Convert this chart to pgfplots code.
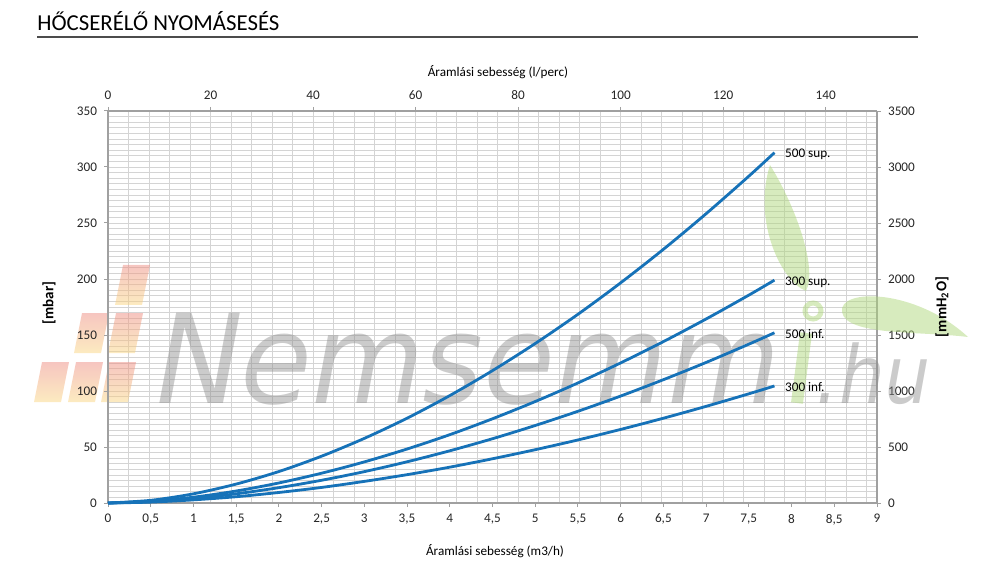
\documentclass[border=0pt]{standalone}
\usepackage{graphicx}
\usepackage{pgfplots}
\pgfplotsset{compat=1.18}
\usepackage{fontspec}
\setmainfont{Carlito}
\newfontfamily\wm[FakeSlant=0.2]{DejaVu Sans}

\definecolor{curve}{RGB}{22,114,184}
\definecolor{gridc}{RGB}{212,212,212}
\definecolor{axc}{RGB}{160,160,160}
\definecolor{wmgray}{RGB}{140,140,140}
\definecolor{leaf}{RGB}{175,215,125}
\definecolor{rtop}{RGB}{238,140,130}
\definecolor{rbot}{RGB}{250,215,130}

\newcommand\ticksize{\fontsize{6.6}{7}\selectfont}

\pgfplotsset{
  base/.style={
    at={(54pt,32.5pt)}, anchor=south west, scale only axis,
    width=384.5pt, height=196pt,
    tick align=outside, major tick length=2pt, minor tick length=0pt,
    tick style={axc, line width=0.5pt},
    axis line style={axc, line width=0.6pt},
    tick label style={font=\ticksize, text=black!85},
    /pgf/number format/assume math mode=true,
    /pgf/number format/1000 sep={},
  },
  crv/.style={curve, line width=1.4pt, smooth, mark=none},
}

\begin{document}
\begin{tikzpicture}
\path[use as bounding box] (0,0) rectangle (500pt,284pt);

% grid, top and right axes (l/perc, mmH2O)
\begin{axis}[base,
  xmin=0, xmax=150, ymin=0, ymax=3500,
  axis x line*=top, axis y line*=right,
  xtick={0,20,...,140}, minor xtick={4,8,...,148},
  ytick={0,500,...,3500}, minor ytick={50,100,...,3450},
  grid=both,
  major grid style={gridc, line width=0.45pt},
  minor grid style={gridc, line width=0.45pt},
  scaled y ticks=false,
]
\addplot[draw=none] coordinates {(0,0)};
\end{axis}

\begin{scope}[x=0.5pt, y=-0.5pt, yshift=284pt]
% title
\node[anchor=base west, inner sep=0, font=\fontsize{11.4}{12}\selectfont] at (37,31) {HŐCSERÉLŐ NYOMÁSESÉS};
\draw[black!70, line width=0.7pt] (37,37) -- (918,37);

% watermark
\foreach \xa/\yb in {115/305, 74/353, 108/353, 34/402, 68/402, 101/402}
  \shade[top color=rtop, bottom color=rbot, fill opacity=0.5]
    (\xa,\yb) -- ++(27,0) -- ++(8,-40) -- ++(-27,0) -- cycle;
\fill[leaf, fill opacity=0.5] (770,165) .. controls (795,205) and (818,268) .. (806,291)
  .. controls (782,282) and (752,222) .. (770,165) -- cycle;
\fill[leaf, fill opacity=0.5] (842,312) .. controls (838,288) and (915,288) .. (968,337)
  .. controls (920,331) and (846,336) .. (842,312) -- cycle;
\draw[leaf, line width=2.5pt, opacity=0.5] (813,311) circle (8);
\draw[leaf, line width=6pt, opacity=0.5] (806,333) -- (797,403);
\node[anchor=base west, inner sep=0, text=wmgray, text opacity=0.45,
  font=\wm\fontsize{62}{62}\selectfont] at (148,403) {\scalebox{0.93}[1]{Nemsemm}};
\node[anchor=base west, inner sep=0, text=wmgray, text opacity=0.45,
  font=\wm\fontsize{40}{40}\selectfont] at (812,403) {\scalebox{0.9}[1]{.hu}};

% axis titles
\node[font=\ticksize] at (498,72) {Áramlási sebesség (l/perc)};
\node[font=\ticksize] at (495,551) {Áramlási sebesség (m3/h)};
\node[font=\fontsize{7.5}{8}\selectfont\bfseries, rotate=90] at (49,303) {[mbar]};
\node[font=\fontsize{7.5}{8}\selectfont\bfseries, rotate=90] at (942,307) {[mmH\textsubscript{2}O]};
\end{scope}

% data, bottom and left axes (m3/h, mbar)
\begin{axis}[base,
  xmin=0, xmax=9, ymin=0, ymax=350,
  axis x line*=bottom, axis y line*=left,
  xtick={0,0.5,1,1.5,2,2.5,3,3.5,4,4.5,5,5.5,6,6.5,7,7.5,8,8.5,9},
  ytick={0,50,...,350},
  xticklabel style={/pgf/number format/.cd, use comma, fixed},
  clip=false,
]
\addplot[crv] coordinates {(0,0) (0.5,2.4) (1,8.2) (1.5,16.9) (2,28.1) (2.5,41.8) (3,57.7) (3.5,75.7) (4,95.9) (4.5,118.2) (5,142.4) (5.5,168.5) (6,196.6) (6.5,226.5) (7,258.3) (7.5,291.8) (7.8,312.8)};
\addplot[crv] coordinates {(0,0) (0.5,1.5) (1,5.2) (1.5,10.7) (2,17.9) (2.5,26.6) (3,36.7) (3.5,48.2) (4,61.0) (4.5,75.2) (5,90.6) (5.5,107.2) (6,125.1) (6.5,144.1) (7,164.3) (7.5,185.6) (7.8,199)};
\addplot[crv] coordinates {(0,0) (0.5,1.2) (1,4.0) (1.5,8.2) (2,13.7) (2.5,20.3) (3,28.0) (3.5,36.8) (4,46.6) (4.5,57.4) (5,69.2) (5.5,81.9) (6,95.5) (6.5,110.1) (7,125.5) (7.5,141.8) (7.8,152)};
\addplot[crv] coordinates {(0,0) (0.5,0.8) (1,2.8) (1.5,5.6) (2,9.4) (2.5,13.9) (3,19.3) (3.5,25.3) (4,32.0) (4.5,39.5) (5,47.6) (5.5,56.3) (6,65.7) (6.5,75.7) (7,86.3) (7.5,97.5) (7.8,104.5)};
\node[anchor=west, font=\ticksize, inner sep=0] at (axis cs:7.92,311) {500 sup.};
\node[anchor=west, font=\ticksize, inner sep=0] at (axis cs:7.92,197) {300 sup.};
\node[anchor=west, font=\ticksize, inner sep=0] at (axis cs:7.92,151) {500 inf.};
\node[anchor=west, font=\ticksize, inner sep=0] at (axis cs:7.92,103.5) {300 inf.};
\end{axis}
\end{tikzpicture}
\end{document}
